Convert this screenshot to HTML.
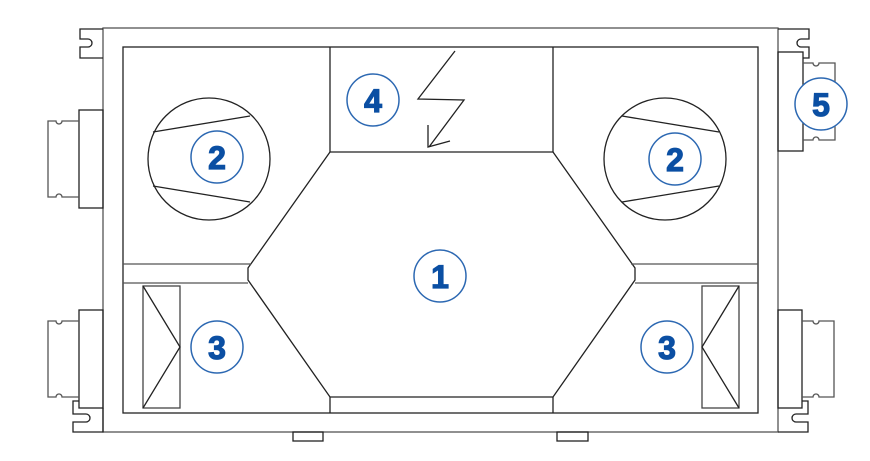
<!DOCTYPE html>
<html><head><meta charset="utf-8"><style>
html,body{margin:0;padding:0;background:#fff;}
svg{display:block}
text{font-family:"Liberation Sans",sans-serif;font-weight:bold;font-size:32px;fill:#0b4fa3;stroke:#0b4fa3;stroke-width:1.2;text-anchor:middle;}
.c{fill:#fff;stroke:#2c68b2;stroke-width:1.5}
</style></head><body>
<svg width="870" height="461" viewBox="0 0 870 461" xmlns="http://www.w3.org/2000/svg">
<g fill="none" stroke="#222" stroke-width="1.3">
<rect x="103" y="28" width="675" height="404" stroke="#555"/>
<rect x="123" y="47" width="635" height="366"/>
<path d="M103 29 H80 V39 H88 A4 4 0 0 1 88 47 H80 V58 H103"/>
<rect x="79" y="110" width="24" height="98"/>
<path d="M79 121 H62 A3 3 0 0 1 56 121 H48 V197 H56 A3 3 0 0 1 62 197 H79" stroke="#555"/>
<rect x="79" y="310" width="24" height="98"/>
<path d="M79 321 H62 A3 3 0 0 1 56 321 H48 V397 H56 A3 3 0 0 1 62 397 H79" stroke="#555"/>
<path d="M103 408 V432 H73 V422 H86 A4 4 0 0 0 86 414 H73 V401 H79"/>
<path d="M778 29 H809 V39 H801 A4 4 0 0 0 801 47 H809 V58 H803"/>
<rect x="778" y="52" width="25" height="99"/>
<path d="M803 63 H813 A3 3 0 0 0 819 63 H835 V140 H819 A3 3 0 0 0 813 140 H803" stroke="#555"/>
<rect x="778" y="310" width="24" height="98"/>
<path d="M802 321 H813 A3 3 0 0 0 819 321 H834 V397 H819 A3 3 0 0 0 813 397 H802" stroke="#555"/>
<path d="M778 432 H808 V422 H796 A4 4 0 0 1 796 414 H808 V401 H802"/>
<rect x="293" y="432" width="30" height="9"/>
<rect x="557" y="432" width="31" height="9"/>
<path d="M330 47 V152 H553 V47"/>
<path d="M330 152 L248 268 V280 L330 397 H553 L635 280 V268 L553 152"/>
<path d="M330 397 V413 M553 397 V413"/>
<path d="M123 264 H251 M123 283 H248 M631 264 H758 M635 283 H758" stroke="#555"/>
<rect x="143" y="286" width="37" height="122" stroke="#444"/>
<path d="M143 286 L180 347 L143 408"/>
<rect x="702" y="286" width="37" height="122" stroke="#444"/>
<path d="M739 286 L702 347 L739 408"/>
<circle cx="209" cy="159" r="61"/>
<path d="M153 132 L250 116 M153 186 L250 202"/>
<circle cx="665" cy="159" r="61"/>
<path d="M622 116 L719 132 M622 202 L719 186"/>
<path d="M455 51 L418 99 L464 100 L429 147 M428 125 V147 L450 141"/>
</g>
<circle class="c" cx="440" cy="276" r="26"/><text x="440" y="288">1</text>
<circle class="c" cx="217" cy="157" r="26"/><text x="217" y="169">2</text>
<circle class="c" cx="675" cy="159" r="26"/><text x="675" y="171">2</text>
<circle class="c" cx="217" cy="347" r="26"/><text x="217" y="359">3</text>
<circle class="c" cx="667" cy="347" r="26"/><text x="667" y="359">3</text>
<circle class="c" cx="373" cy="100" r="26"/><text x="373" y="112">4</text>
<circle class="c" cx="821" cy="104" r="26"/><text x="821" y="116">5</text>
</svg>
</body></html>
